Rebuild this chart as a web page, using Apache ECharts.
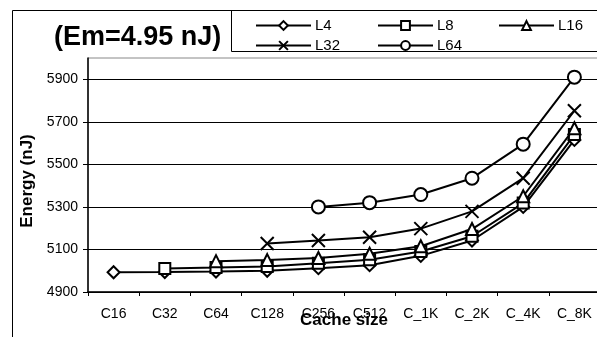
<!DOCTYPE html>
<html>
<head>
<meta charset="utf-8">
<script src="https://cdn.jsdelivr.net/npm/echarts@6/dist/echarts.min.js"></script>
<style>
html,body{margin:0;padding:0;background:#fff;}
#chart{width:597px;height:337px;}
</style>
</head>
<body>
<div id="chart"></div>
<script>
var categories = ['C16','C32','C64','C128','C256','C512','C_1K','C_2K','C_4K','C_8K'];
var seriesNames = ['L4','L8','L16','L32','L64'];
var L4  = [4993, 4994, 4996, 5000, 5012, 5026, 5070, 5142, 5300, 5615];
var L8  = [null, 5011, 5015, 5020, 5035, 5052, 5090, 5162, 5318, 5640];
var L16 = [null, null, 5045, 5050, 5060, 5080, 5115, 5196, 5350, 5670];
var L32 = [null, null, null, 5128, 5142, 5157, 5198, 5279, 5435, 5752];
var L64 = [null, null, null, null, 5300, 5320, 5358, 5435, 5595, 5910];
var yTicks = [4900, 5100, 5300, 5500, 5700, 5900];
var titleText = '(Em=4.95 nJ)';
var xName = 'Cache size';
var yName = 'Energy (nJ)';

var FONT = 'Liberation Sans, Arial, Helvetica, sans-serif';
var seriesData = [L4, L8, L16, L32, L64];
var symbols = ['diamond', 'rect', 'triangle', 'path://M0,0L10,10M10,0L0,10', 'circle'];
var sizes = [12, 11, 12, 13, 13];

var chart = echarts.init(document.getElementById('chart'), null, {renderer: 'canvas'});

var legendPos = [[250, 13], [372, 13], [493, 13], [250, 33], [372, 33]];

var option = {
  animation: false,
  backgroundColor: '#fff',
  title: {
    text: titleText,
    left: 49,
    top: 19,
    textStyle: {fontFamily: FONT, fontSize: 27, fontWeight: 'bold', color: '#000'}
  },
  legend: seriesNames.map(function (n, i) {
    return {
      data: [n],
      left: legendPos[i][0],
      top: legendPos[i][1],
      itemWidth: 55,
      itemHeight: 11,
      itemGap: 0,
      textStyle: {fontFamily: FONT, fontSize: 15, color: '#000', padding: [0, 0, 0, -1]},
      selectedMode: false
    };
  }),
  graphic: [
    {type: 'rect', shape: {x: 12.5, y: 10.5, width: 700, height: 400}, style: {fill: null, stroke: '#000', lineWidth: 1}, z: 0, silent: true},
    {type: 'rect', shape: {x: 231.5, y: 10.5, width: 400, height: 41}, style: {fill: null, stroke: '#000', lineWidth: 1}, z: 0, silent: true}
  ],
  grid: {
    left: 88, top: 58, right: -3, bottom: 45,
    outerBoundsMode: 'none',
    containLabel: false,
    show: true, borderColor: '#888', borderWidth: 1, backgroundColor: 'transparent'
  },
  xAxis: {
    type: 'category',
    data: categories,
    boundaryGap: true,
    name: xName,
    nameLocation: 'middle',
    nameGap: 20,
    nameMoveOverlap: false,
    nameTextStyle: {fontFamily: FONT, fontSize: 17, fontWeight: 'bold', color: '#000'},
    axisLine: {lineStyle: {color: '#000', width: 1.5}},
    axisTick: {show: true, alignWithLabel: false, length: 4, lineStyle: {color: '#000'}},
    axisLabel: {fontFamily: FONT, fontSize: 14, color: '#000', margin: 15, interval: 0},
    splitLine: {show: false}
  },
  yAxis: {
    type: 'value',
    min: 4900,
    max: 6000,
    name: yName,
    nameLocation: 'middle',
    nameRotate: 90,
    nameGap: 52,
    nameTextStyle: {fontFamily: FONT, fontSize: 17, fontWeight: 'bold', color: '#000', padding: [0, 0, 0, -12]},
    axisLine: {show: true, lineStyle: {color: '#000', width: 1.5}},
    axisTick: {show: true, length: 5, customValues: yTicks, lineStyle: {color: '#000'}},
    axisLabel: {fontFamily: FONT, fontSize: 14, color: '#000', margin: 10, customValues: yTicks,
      formatter: function (v) { return String(v); }},
    splitLine: {show: true, lineStyle: {color: '#000', width: 1}}
  },
  series: seriesNames.map(function (n, i) {
    return {
      name: n,
      type: 'line',
      data: seriesData[i],
      symbol: symbols[i],
      symbolSize: sizes[i],
      showAllSymbol: true,
      connectNulls: false,
      lineStyle: {color: '#000', width: 2},
      itemStyle: {color: '#fff', borderColor: '#000', borderWidth: 2},
      emphasis: {disabled: true},
      z: 2 + i
    };
  })
};
chart.setOption(option);
</script>
</body>
</html>
